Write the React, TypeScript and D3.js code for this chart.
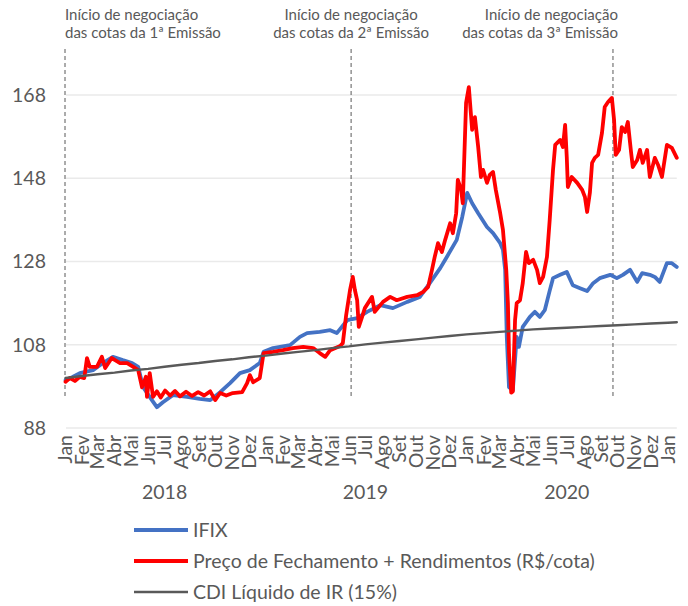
import React from 'react';
import * as d3 from 'd3';

// IFIX (data, valor)
const ifixDates = ['2018-01-02','2018-01-14','2018-01-28','2018-02-21','2018-03-11','2018-03-29','2018-04-16','2018-05-03','2018-05-14','2018-05-23','2018-06-08','2018-06-17','2018-06-28','2018-07-16','2018-08-11','2018-09-03','2018-09-22','2018-10-10','2018-10-28','2018-11-15','2018-12-03','2018-12-21','2018-12-28','2019-01-14','2019-02-14','2019-03-04','2019-03-17','2019-04-09','2019-04-28','2019-05-10','2019-05-29','2019-06-16','2019-07-04','2019-07-28','2019-08-20','2019-09-15','2019-10-08','2019-10-26','2019-11-14','2019-11-26','2019-12-14','2019-12-24','2020-01-02','2020-01-11','2020-01-22','2020-02-07','2020-02-18','2020-03-02','2020-03-07','2020-03-11','2020-03-14','2020-03-18','2020-03-25','2020-04-01','2020-04-05','2020-04-12','2020-04-25','2020-05-04','2020-05-13','2020-05-22','2020-05-31','2020-06-06','2020-06-19','2020-07-01','2020-07-12','2020-07-25','2020-08-07','2020-08-18','2020-08-30','2020-09-18','2020-09-30','2020-10-11','2020-10-24','2020-11-06','2020-11-15','2020-11-29','2020-12-08','2020-12-17','2020-12-30','2021-01-08','2021-01-17'];
const ifixValues = [99.5,100.2,101.2,101.9,103.6,105.1,104.3,103.6,102.7,97.8,94.7,93.0,94.2,95.9,95.5,95.0,94.7,96.6,98.8,101.2,101.9,103.6,106.3,107.2,107.9,109.9,110.8,111.1,111.5,110.8,113.9,114.4,115.9,117.5,116.8,118.3,119.5,122.8,126.4,129.1,133.2,138.7,144.5,142.0,139.6,136.3,134.8,132.4,130.8,126.0,109.9,97.8,97.1,109.9,107.5,112.3,114.7,115.9,114.7,116.3,121.0,124.0,124.8,125.5,122.3,121.6,120.9,122.8,124.0,124.8,124.0,124.8,126.0,123.1,125.2,124.8,124.3,123.1,127.6,127.6,126.7];

// Preço de Fechamento + Rendimentos
const precoDates = ['2018-01-02','2018-01-10','2018-01-19','2018-01-28','2018-02-05','2018-02-10','2018-02-15','2018-02-28','2018-03-09','2018-03-15','2018-03-27','2018-04-02','2018-04-11','2018-04-24','2018-05-05','2018-05-14','2018-05-21','2018-05-28','2018-05-30','2018-06-04','2018-06-10','2018-06-17','2018-06-24','2018-07-02','2018-07-11','2018-07-20','2018-07-29','2018-08-09','2018-08-20','2018-08-31','2018-09-11','2018-09-22','2018-10-01','2018-10-10','2018-10-21','2018-11-02','2018-11-19','2018-11-28','2018-12-03','2018-12-09','2018-12-21','2018-12-28','2019-01-14','2019-02-01','2019-02-19','2019-03-10','2019-03-28','2019-04-09','2019-04-19','2019-04-28','2019-05-16','2019-05-21','2019-05-27','2019-06-03','2019-06-08','2019-06-12','2019-06-16','2019-06-19','2019-06-25','2019-06-30','2019-07-13','2019-07-18','2019-08-02','2019-08-15','2019-08-27','2019-09-15','2019-10-03','2019-10-14','2019-10-23','2019-10-30','2019-11-04','2019-11-10','2019-11-17','2019-11-23','2019-12-02','2019-12-07','2019-12-13','2019-12-16','2019-12-22','2019-12-25','2019-12-31','2020-01-05','2020-01-11','2020-01-16','2020-01-22','2020-01-27','2020-01-31','2020-02-07','2020-02-12','2020-02-18','2020-02-23','2020-03-02','2020-03-07','2020-03-13','2020-03-16','2020-03-18','2020-03-22','2020-03-25','2020-03-29','2020-04-01','2020-04-07','2020-04-12','2020-04-18','2020-04-23','2020-05-01','2020-05-08','2020-05-13','2020-05-19','2020-05-26','2020-05-31','2020-06-06','2020-06-10','2020-06-19','2020-06-24','2020-06-28','2020-07-01','2020-07-03','2020-07-10','2020-07-20','2020-07-29','2020-08-03','2020-08-07','2020-08-12','2020-08-16','2020-08-21','2020-08-27','2020-09-03','2020-09-08','2020-09-14','2020-09-21','2020-09-25','2020-09-28','2020-10-04','2020-10-09','2020-10-15','2020-10-20','2020-10-26','2020-10-29','2020-11-06','2020-11-11','2020-11-16','2020-11-24','2020-11-29','2020-12-08','2020-12-14','2020-12-21','2020-12-30','2021-01-08','2021-01-17'];
const precoValues = [99.1,100.0,99.3,100.3,100.0,104.8,102.7,102.7,105.1,102.4,104.8,104.3,103.6,103.6,102.7,101.9,97.8,100.3,95.5,101.2,95.5,96.8,95.3,97.0,95.8,96.9,95.6,96.7,95.7,96.6,95.8,96.8,94.7,96.4,95.8,96.4,96.6,98.8,100.7,99.0,100.0,106.0,106.3,106.7,107.2,107.5,107.2,106.0,105.1,106.7,107.7,108.4,115.1,121.1,124.3,121.1,118.7,112.3,114.7,116.8,119.5,115.9,118.3,119.5,118.7,119.5,119.9,120.7,121.9,126.0,129.1,132.4,130.3,133.2,137.2,134.8,139.6,147.6,145.2,142.0,166.1,169.9,159.6,162.7,155.5,148.3,150.0,146.9,148.8,149.5,145.2,139.6,135.6,126.0,118.0,106.0,96.5,96.8,113.9,118.0,118.7,122.8,130.3,127.6,128.4,126.0,122.8,124.3,129.1,138.0,150.0,156.0,157.2,155.5,160.8,153.1,145.9,148.3,146.9,145.2,143.5,139.9,144.5,151.7,152.9,153.6,158.9,165.1,166.3,167.3,162.0,153.6,154.8,160.3,159.1,161.5,154.1,150.7,152.4,154.8,151.7,154.8,148.3,152.9,151.2,148.3,156.0,155.3,152.9];

// CDI Líquido de IR (15%)
const cdiDates = ['2018-01-02','2018-02-01','2018-03-01','2018-04-01','2018-05-01','2018-06-01','2018-07-01','2018-08-01','2018-09-01','2018-10-01','2018-11-01','2018-12-01','2019-01-01','2019-02-01','2019-03-01','2019-04-01','2019-05-01','2019-06-01','2019-07-01','2019-08-01','2019-09-01','2019-10-01','2019-11-01','2019-12-01','2020-01-01','2020-02-01','2020-03-01','2020-04-01','2020-05-01','2020-06-01','2020-07-01','2020-08-01','2020-09-01','2020-10-01','2020-11-01','2020-12-01','2021-01-01','2021-01-17'];
const cdiValues = [100.0,100.5,100.9,101.3,101.8,102.2,102.7,103.2,103.6,104.1,104.5,105.0,105.4,105.9,106.3,106.7,107.2,107.6,108.1,108.5,108.9,109.3,109.7,110.1,110.5,110.8,111.1,111.4,111.7,111.9,112.1,112.3,112.5,112.7,112.9,113.1,113.3,113.4];

const monthNames = ['Jan','Fev','Mar','Abr','Mai','Jun','Jul','Ago','Set','Out','Nov','Dez'];
const yearLabels = ['2018','2019','2020'];
const yTicks = [88, 108, 128, 148, 168];

// marcos de emissão
const emissionDates = ['2018-01-02','2019-06-05','2020-09-23'];
const emissionLabels = ['1ª','2ª','3ª'];

const seriesNames = ['IFIX','Preço de Fechamento + Rendimentos (R$/cota)','CDI Líquido de IR (15%)'];
const seriesColors = ['#4472C4','#FF0000','#595959'];

const W = 688, H = 606;
const FONT = 'Lato, "Open Sans", sans-serif';
const parse = d3.utcParse('%Y-%m-%d');

export default function App() {
  const x = d3.scaleUtc()
    .domain([parse('2018-01-01') as Date, parse('2021-01-01') as Date])
    .range([65, 668]);
  const y = d3.scaleLinear().domain([88, 168]).range([428, 95]);
  const xEnd = x(parse('2021-01-17') as Date);

  const mk = (dates: string[], vals: number[]) =>
    dates.map((d, i) => [parse(d) as Date, vals[i]] as [Date, number]);
  const line = d3.line<[Date, number]>().x(d => x(d[0])).y(d => y(d[1]));

  const series = [
    { data: mk(ifixDates, ifixValues), w: 3.8 },
    { data: mk(precoDates, precoValues), w: 3.8 },
    { data: mk(cdiDates, cdiValues), w: 2.4 },
  ];

  const months = d3.utcMonth.range(parse('2018-01-01') as Date, parse('2021-01-02') as Date);
  const txt = '#595959';

  return (
    <svg width={W} height={H} style={{ position: 'absolute', left: 0, top: 0, background: '#fff' }}
      fontFamily={FONT}>
      {yTicks.map(t => (
        <g key={t}>
          <line x1={66} x2={xEnd} y1={y(t)} y2={y(t)} stroke="#EAEAEA" strokeWidth={1.6} />
          <text x={46} y={y(t)} dy="0.35em" textAnchor="end" fontSize={19.5} fill={txt}>{t}</text>
        </g>
      ))}
      {emissionDates.map((d, i) => {
        const ex = i === 0 ? 65 : x(parse(d) as Date);
        const anchor = i === 0 ? 'start' : i === 1 ? 'middle' : 'end';
        const tx = i === 0 ? 65 : i === 1 ? ex : ex + 5;
        return (
          <g key={d}>
            <line x1={ex} x2={ex} y1={49} y2={396} stroke="#595959" strokeWidth={1} strokeDasharray="4,3" />
            <text x={tx} y={20} textAnchor={anchor} fontSize={15} fill={txt}>Início de negociação</text>
            <text x={tx} y={38} textAnchor={anchor} fontSize={15} fill={txt}>{`das cotas da ${emissionLabels[i]} Emissão`}</text>
          </g>
        );
      })}
      {series.map((s, i) => (
        <path key={i} d={line(s.data) || ''} fill="none" stroke={seriesColors[i]} strokeWidth={s.w}
          strokeLinejoin="round" strokeLinecap="round" />
      ))}
      {months.map(m => (
        <text key={m.toISOString()} transform={`translate(${x(m)},435) rotate(-90)`} dy="0.35em"
          textAnchor="end" fontSize={19.5} fill={txt}>{monthNames[m.getUTCMonth()]}</text>
      ))}
      {yearLabels.map(yr => (
        <text key={yr} x={x(parse(`${yr}-07-01`) as Date)} y={499} textAnchor="middle" fontSize={19.5} fill={txt}>{yr}</text>
      ))}
      {seriesNames.map((n, i) => (
        <g key={n}>
          <line x1={134} x2={188} y1={530 + i * 31} y2={530 + i * 31} stroke={seriesColors[i]}
            strokeWidth={i === 2 ? 2.4 : 3.8} />
          <text x={193} y={530 + i * 31} dy="0.35em" fontSize={19.5} fill={txt}>{n}</text>
        </g>
      ))}
    </svg>
  );
}
